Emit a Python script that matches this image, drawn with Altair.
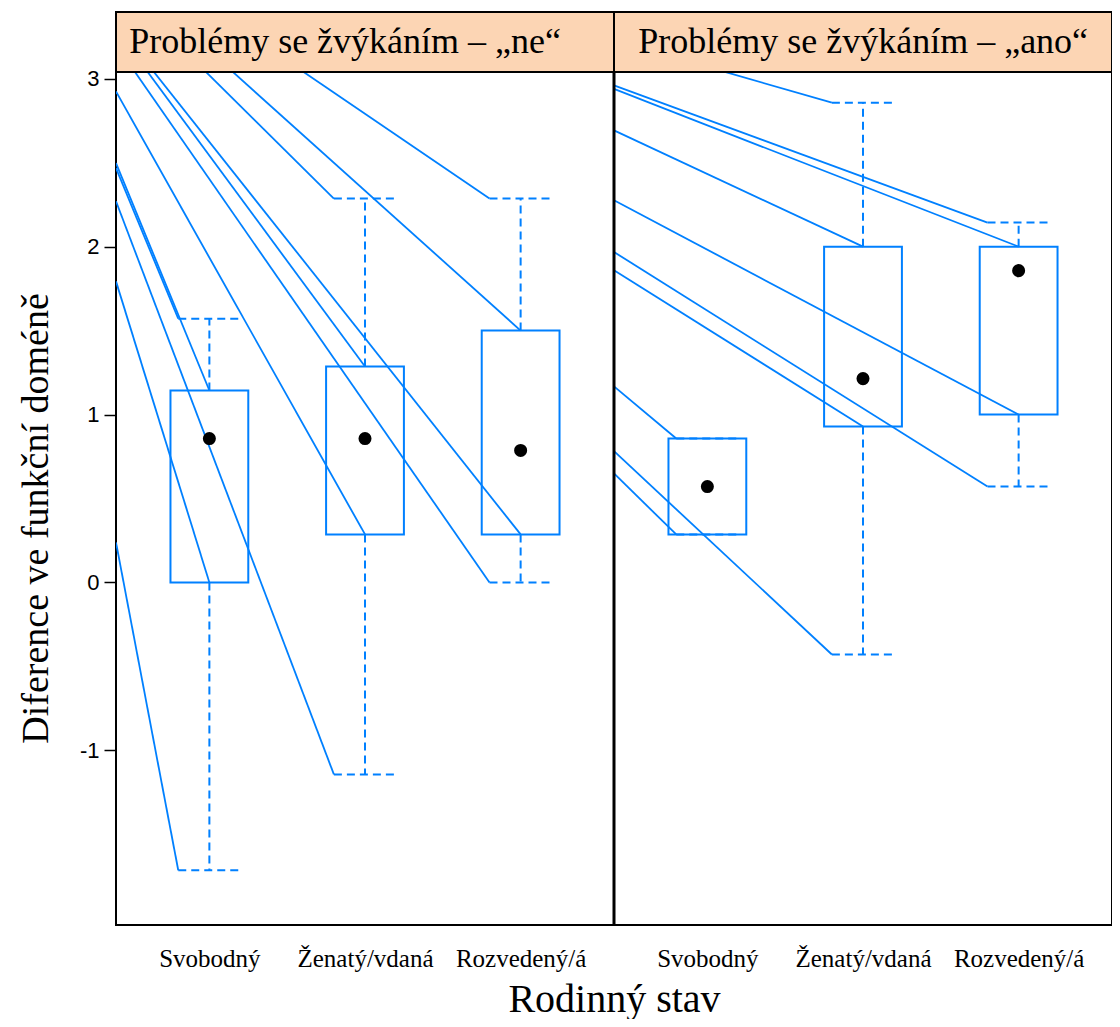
import json
import altair as alt
import pandas as pd

# ---------------- data ----------------
panels = ["Problémy se žvýkáním – „ne“", "Problémy se žvýkáním – „ano“"]
categories = ["Svobodný", "Ženatý/vdaná", "Rozvedený/á"]

# box statistics (panel index, category index)
box_panel = [0, 0, 0, 1, 1, 1]
box_cat = [0, 1, 2, 0, 1, 2]
whisker_low = [-1.714, -1.143, 0.0, 0.286, -0.429, 0.571]
hinge_low = [0.0, 0.286, 0.286, 0.286, 0.929, 1.0]
medians = [0.857, 0.857, 0.786, 0.571, 1.214, 1.857]
hinge_high = [1.143, 1.286, 1.5, 0.857, 2.0, 2.0]
whisker_high = [1.571, 2.286, 2.286, 0.857, 2.857, 2.143]

# stray connector lines: start at the panel's left edge, end where a whisker / cap starts
line_panel = [0] * 12 + [1] * 10
line_start_y = [3.203, 3.296, 3.325, 3.571, 3.666, 3.801, 2.924, 2.498, 2.468, 2.270, 1.793, 0.238,
                3.231, 2.960, 2.939, 2.692, 2.276, 1.968, 1.859, 1.168, 0.782, 0.649]
line_end_cat = [2, 1, 2, 1, 2, 2, 1, 0, 0, 1, 0, 0,
                1, 2, 2, 1, 2, 2, 1, 0, 1, 0]
line_end_part = ["low_cap", "hinge_high", "hinge_low", "high_cap", "hinge_high", "high_cap",
                 "hinge_low", "hinge_high", "high_cap", "low_cap", "hinge_low", "low_cap",
                 "high_cap", "high_cap", "hinge_high", "hinge_high", "hinge_low", "low_cap",
                 "hinge_low", "high_cap", "low_cap", "low_cap"]

# ---------------- layout constants ----------------
X_LO = 0.4
SPAN = 3.2
SPLIT = X_LO + SPAN
X_HI = X_LO + 2 * SPAN
BOX_HALF = 0.25
CAP_HALF = 0.2
BLUE = "#0080ff"
STRIP = "#fcd5b4"
SERIF = "Liberation Serif"
STRIP_TEXT_X = [1.872, 5.201]


def pos(p, c):
    return p * SPAN + c + 1


# boxes
box_df = pd.DataFrame({
    "panel": box_panel, "cat": box_cat,
    "low": whisker_low, "q1": hinge_low, "med": medians, "q3": hinge_high, "high": whisker_high,
})
box_df["pos"] = [pos(p, c) for p, c in zip(box_panel, box_cat)]
box_df["left"] = box_df["pos"] - BOX_HALF
box_df["right"] = box_df["pos"] + BOX_HALF

# whiskers and caps
seg_rows = []
for r in box_df.itertuples():
    seg_rows.append(dict(x1=r.pos, y1=r.q3, x2=r.pos, y2=r.high))
    seg_rows.append(dict(x1=r.pos - CAP_HALF, y1=r.high, x2=r.pos + CAP_HALF, y2=r.high))
    seg_rows.append(dict(x1=r.pos, y1=r.q1, x2=r.pos, y2=r.low))
    seg_rows.append(dict(x1=r.pos - CAP_HALF, y1=r.low, x2=r.pos + CAP_HALF, y2=r.low))
seg_df = pd.DataFrame(seg_rows)

# stray lines
lookup = {(p, c): i for i, (p, c) in enumerate(zip(box_panel, box_cat))}
line_rows = []
for p, sy, c, part in zip(line_panel, line_start_y, line_end_cat, line_end_part):
    i = lookup[(p, c)]
    cx = pos(p, c)
    if part == "hinge_high":
        ex, ey = cx, hinge_high[i]
    elif part == "hinge_low":
        ex, ey = cx, hinge_low[i]
    elif part == "high_cap":
        ex, ey = cx - CAP_HALF, whisker_high[i]
    else:
        ex, ey = cx - CAP_HALF, whisker_low[i]
    line_rows.append(dict(x1=X_LO + p * SPAN, y1=sy, x2=ex, y2=ey))
line_df = pd.DataFrame(line_rows)

strip_df = pd.DataFrame({
    "label": panels,
    "xl": [X_LO, SPLIT],
    "xr": [SPLIT, X_HI],
    "tx": STRIP_TEXT_X,
})

x_values = [pos(p, c) for p in range(2) for c in range(3)]
cats_js = json.dumps(categories, ensure_ascii=False)
label_expr = (f"{cats_js}[datum.value > {SPLIT} ? round(datum.value - {1 + SPAN}) "
              f": round(datum.value - 1)]")

x_scale = alt.Scale(domain=[X_LO, X_HI], nice=False, zero=False)
y_scale = alt.Scale(domain=[-2.04, 3.04], nice=False, zero=False)

x_axis = alt.Axis(
    values=x_values, labelExpr=label_expr, ticks=False, domain=False, grid=False,
    labelFont=SERIF, labelFontSize=25, labelColor="black", labelPadding=41,
    labelBaseline="alphabetic", labelAngle=0, labelOverlap=False, labelFlush=False, labelBound=False,
    title="Rodinný stav", titleFont=SERIF, titleFontSize=40, titleFontWeight="normal",
    titleColor="black", titleX=498, titleY=86, titleBaseline="alphabetic", titleAlign="center",
)
y_axis = alt.Axis(
    values=[-1, 0, 1, 2, 3], tickSize=12, tickWidth=1.5, tickColor="black",
    labelExpr="(datum.value < 0 ? '-' : '') + abs(datum.value)",
    labelFont="Liberation Sans", labelFontSize=22, labelColor="black", labelPadding=5,
    grid=False, domain=False,
    title="Diference ve funkční doméně", titleFont=SERIF, titleFontSize=38,
    titleFontWeight="normal", titleColor="black", titleX=-80, titleY=446, titleAngle=270,
    titleBaseline="middle", titleAlign="center",
)


def X(field):
    return alt.X(field, scale=x_scale, axis=x_axis)


def Y(field):
    return alt.Y(field, scale=y_scale, axis=y_axis)


boxes = alt.Chart(box_df).mark_rect(fillOpacity=0, stroke=BLUE, strokeWidth=2).encode(
    x=X("left:Q"), x2="right:Q", y=Y("q1:Q"), y2="q3:Q",
)

whiskers = alt.Chart(seg_df).mark_rule(color=BLUE, strokeWidth=2, strokeDash=[8, 5]).encode(
    x=X("x1:Q"), x2="x2:Q", y=Y("y1:Q"), y2="y2:Q",
)

stray = alt.Chart(line_df).mark_rule(color=BLUE, strokeWidth=1.8, clip=True).encode(
    x=X("x1:Q"), x2="x2:Q", y=Y("y1:Q"), y2="y2:Q",
)

dots = alt.Chart(box_df).mark_point(filled=True, color="black", opacity=1, size=170, shape="circle").encode(
    x=X("pos:Q"), y=Y("med:Q"),
)

separator = alt.Chart(pd.DataFrame({"_": [0]})).mark_rule(color="black", strokeWidth=3).encode(
    x=alt.datum(SPLIT, scale=x_scale, axis=x_axis),
)

strip_rect = alt.Chart(strip_df).mark_rect(fill=STRIP, stroke="black", strokeWidth=2, clip=False).encode(
    x=X("xl:Q"), x2="xr:Q",
    y=alt.value(-60), y2=alt.value(0),
)
strip_text = alt.Chart(strip_df).mark_text(
    font=SERIF, fontSize=36, color="black", align="center", baseline="alphabetic", clip=False
).encode(
    x=X("tx:Q"),
    y=alt.value(-19),
    text="label:N",
)

chart = alt.layer(boxes, stray, whiskers, dots, separator, strip_rect, strip_text).properties(
    width=996, height=853,
    padding={"left": 108, "top": 64, "right": 0, "bottom": 94},
    autosize=alt.AutoSizeParams(type="none"),
).configure_view(stroke="black", strokeWidth=2)

chart.save("out.html", embed_options={"renderer": "svg", "actions": False})
